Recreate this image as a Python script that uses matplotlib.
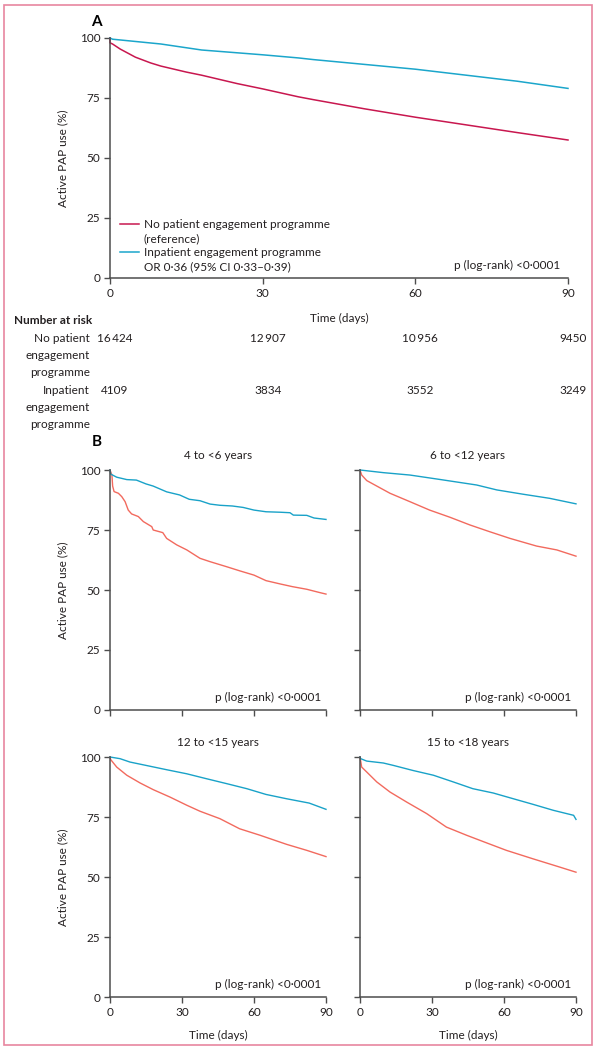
import matplotlib.pyplot as plt
from matplotlib.lines import Line2D
from matplotlib.patches import Rectangle
from matplotlib.transforms import blended_transform_factory

plt.rcParams['font.family'] = ['Lato', 'DejaVu Sans']
plt.rcParams['font.size'] = 8.5

W, H = 597, 1050

# Panel A: whole cohort (days, % active PAP use)
a_ref_t = [0, 0, 0.5, 2, 5, 8, 10, 15, 18, 20, 25, 30, 37, 40, 50, 60, 70, 80, 90]
a_ref_s = [100, 98, 97.5, 95.4, 92, 89.6, 88.3, 85.8, 84.5, 83.5, 81, 78.8, 75.5, 74.3, 70.5, 67, 63.8, 60.6, 57.5]
a_inp_t = [0, 0.5, 10, 18, 30, 37, 40, 50, 60, 70, 80, 90]
a_inp_s = [100, 99.5, 97.5, 95, 93, 91.7, 91, 89, 87, 84.5, 82, 79]

# Panel B: by age group
b1_ref_t = [0, 0.8, 1.1, 1.7, 3.5, 4.9, 6.3, 7.6, 9, 11.8, 13.9, 17.4, 18, 22, 23.6, 27.8, 32, 37.5, 41.7, 48.6, 54, 60, 65, 71, 76, 82, 87.5, 90]
b1_ref_s = [100, 97.9, 93.3, 91, 90.3, 88.9, 86.8, 83.3, 81.7, 80.6, 78.5, 76.4, 75, 73.9, 71.5, 68.8, 66.7, 63.2, 61.8, 59.7, 58, 56.2, 53.9, 52.5, 51.4, 50.3, 48.9, 48.3]
b1_inp_t = [0, 0.3, 2.8, 7, 11, 15, 18, 23.6, 29, 33, 37.5, 41.7, 45.8, 51, 55.5, 60, 65, 71, 75, 76.4, 82, 85, 90]
b1_inp_s = [100, 98.3, 97, 96, 95.8, 94.2, 93.3, 90.9, 89.6, 87.8, 87.2, 85.8, 85.3, 85, 84.4, 83.3, 82.6, 82.4, 82.2, 81.2, 81.1, 80, 79.4]

b2_ref_t = [0, 0.7, 2.8, 7, 12.5, 20.8, 29, 37.5, 45.8, 54, 62.5, 73.6, 82, 90]
b2_ref_s = [100, 97.9, 95.6, 93.3, 90.3, 86.8, 83.3, 80.3, 77.1, 74.3, 71.5, 68.3, 66.7, 64.1]
b2_inp_t = [0, 9.7, 20.8, 33, 48.6, 57, 68, 79, 90]
b2_inp_s = [100, 98.9, 97.9, 96.1, 93.75, 91.7, 89.9, 88.2, 85.9]

b3_ref_t = [0, 0.3, 2.8, 7, 12.5, 18, 25, 32, 37.5, 45.8, 54, 62.5, 73.6, 82, 90]
b3_ref_s = [100, 98.9, 95.8, 92.4, 89.2, 86.4, 83.3, 79.9, 77.4, 74.3, 70.1, 67.4, 63.6, 61.1, 58.5]
b3_inp_t = [0, 4.2, 8.3, 15, 23.6, 32, 40, 48.6, 57, 65, 73.6, 83, 90]
b3_inp_s = [100, 99.3, 97.9, 96.5, 94.7, 93, 91, 88.9, 86.8, 84.4, 82.6, 80.8, 78.2]

b4_ref_t = [0, 0.7, 2.8, 7, 12.5, 19.4, 27.8, 36, 44.4, 52.8, 61, 72, 83, 90]
b4_ref_s = [100, 95.8, 93.75, 89.6, 85.4, 81.25, 76.4, 70.8, 67.4, 64.2, 61.1, 57.6, 54.2, 52]
b4_inp_t = [0, 0.3, 2.8, 9.7, 13.9, 22, 30.6, 38.9, 47, 55.5, 63.9, 72, 80.5, 89, 90]
b4_inp_s = [100, 99.3, 98.3, 97.5, 96.5, 94.4, 92.4, 89.6, 86.8, 85, 82.6, 80.3, 77.8, 75.7, 74]

age_titles = ['4 to <6 years', '6 to <12 years', '12 to <15 years', '15 to <18 years']

risk_days = [0, 30, 60, 90]
risk_ref = [16424, 12907, 10956, 9450]
risk_inp = [4109, 3834, 3552, 3249]

red_a, blue_a = '#c8174f', '#1ba6cb'
red_b, blue_b = '#f26a5e', '#19a2c8'
axis_col = '#4d4d4d'
txt_col = '#231f20'


def style(ax, xlabels=True, ylabels=True):
    for s in ['top', 'right']:
        ax.spines[s].set_visible(False)
    for s in ['left', 'bottom']:
        ax.spines[s].set_color(axis_col)
        ax.spines[s].set_linewidth(1.1)
    ax.set_xlim(0, 90)
    ax.set_ylim(0, 100)
    ax.set_xticks(risk_days)
    ax.set_yticks([0, 25, 50, 75, 100])
    ax.tick_params(length=4, width=1, color=axis_col, pad=3,
                   labelsize=8.5, labelcolor=txt_col,
                   labelbottom=xlabels, labelleft=ylabels)


def fmt(n):
    # thin space only for 5-digit numbers, as in the journal style
    return f'{n:,}'.replace(',', '\u2009') if n >= 10000 else str(n)


fig = plt.figure(figsize=(W / 100, H / 100), dpi=100)

# border
fig.patches.append(Rectangle((4 / W, 5 / H), 588 / W, 1040 / H, transform=fig.transFigure,
                             fill=False, edgecolor='#e8869f', linewidth=1.2))

# ---- panel A
ax = fig.add_axes([110 / W, 1 - 278 / H, 458 / W, 240 / H])
style(ax)
l_ref, = ax.plot(a_ref_t, a_ref_s, color=red_a, lw=1.1, clip_on=False)
l_inp, = ax.plot(a_inp_t, a_inp_s, color=blue_a, lw=1.1, clip_on=False)
ax.set_ylabel('Active PAP use (%)', color=txt_col)
ax.yaxis.set_label_coords((68 - 110) / 458, 0.5)
ax.set_xlabel('Time (days)', color=txt_col)
ax.xaxis.set_label_coords(0.5, -35 / 240)
blank = Line2D([], [], color='none')
ax.legend([l_ref, blank, l_inp, blank],
          ['No patient engagement programme', '(reference)',
           'Inpatient engagement programme', 'OR 0\u00b736 (95% CI 0\u00b733\u20130\u00b739)'],
          loc='lower left', bbox_to_anchor=(0.022, 0.025), frameon=False,
          borderpad=0, borderaxespad=0, handlelength=1.6, handletextpad=0.4,
          labelspacing=0.25, fontsize=8.5, labelcolor=txt_col)
ax.text(0.983, 0.054, 'p (log-rank) <0\u00b70001', transform=ax.transAxes,
        ha='right', va='center', color=txt_col)
fig.text(96 / W, 1 - 22 / H, 'A', weight='bold', fontsize=11, ha='center', va='center')

# number at risk table
tr = blended_transform_factory(ax.transData, fig.transFigure)
fig.text(14 / W, 1 - 321 / H, 'Number at risk', weight='bold', ha='left', va='center', color=txt_col)
row_lines = [(['No patient', 'engagement', 'programme'], 338, risk_ref),
             (['Inpatient', 'engagement', 'programme'], 390, risk_inp)]
for lines, y0, vals in row_lines:
    for i, s in enumerate(lines):
        fig.text(90 / W, 1 - (y0 + 17.3 * i) / H, s, ha='right', va='center', color=txt_col)
    for d, v in zip(risk_days, vals):
        ax.text(d + 1, 1 - y0 / H, fmt(v), transform=tr, ha='center', va='center', color=txt_col)

# ---- panel B
panels = [(b1_ref_t, b1_ref_s, b1_inp_t, b1_inp_s),
          (b2_ref_t, b2_ref_s, b2_inp_t, b2_inp_s),
          (b3_ref_t, b3_ref_s, b3_inp_t, b3_inp_s),
          (b4_ref_t, b4_ref_s, b4_inp_t, b4_inp_s)]
lefts = [110, 360]
bottoms = [710, 997]
for k, (rt, rs, it, is_) in enumerate(panels):
    row, col = divmod(k, 2)
    axb = fig.add_axes([lefts[col] / W, 1 - bottoms[row] / H, 216 / W, 240 / H])
    style(axb, xlabels=(row == 1), ylabels=(col == 0))
    axb.plot(rt, rs, color=red_b, lw=1.0, clip_on=False)
    axb.plot(it, is_, color=blue_b, lw=1.0, clip_on=False)
    axb.set_title(age_titles[k], fontsize=8.5, color=txt_col, pad=8)
    axb.text(0.98, 0.054, 'p (log-rank) <0\u00b70001', transform=axb.transAxes,
             ha='right', va='center', color=txt_col)
    if col == 0:
        axb.set_ylabel('Active PAP use (%)', color=txt_col)
        axb.yaxis.set_label_coords((68 - 110) / 216, 0.5)
    if row == 1:
        axb.set_xlabel('Time (days)', color=txt_col)
        axb.xaxis.set_label_coords(0.5, -33 / 240)
fig.text(97 / W, 1 - 442 / H, 'B', weight='bold', fontsize=11, ha='center', va='center')

fig.savefig('out.png', dpi=100)
